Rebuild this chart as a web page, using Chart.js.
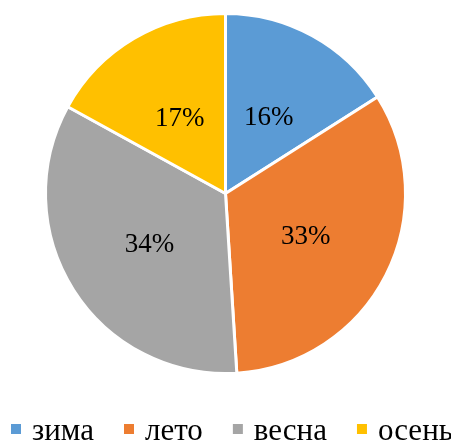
<!DOCTYPE html>
<html>
<head>
<meta charset="utf-8">
<script src="https://cdn.jsdelivr.net/npm/chart.js@4"></script>
<style>
  html, body { margin: 0; padding: 0; background: #fff; }
  #wrap { width: 451px; height: 441px; position: relative; }
</style>
</head>
<body>
<div id="wrap"><canvas id="seasonChart"></canvas></div>
<script>
const seasons = ['зима', 'лето', 'весна', 'осень'];
const shares = [16, 33, 34, 17];
const sliceColors = ['#5B9BD5', '#ED7D31', '#A5A5A5', '#FFC000'];

const serif = '"Liberation Serif", "Times New Roman", serif';

// percent labels in the middle of each slice
const percentLabels = {
    id: 'percentLabels',
    afterDatasetsDraw(chart) {
        const ctx = chart.ctx;
        const meta = chart.getDatasetMeta(0);
        const total = shares.reduce((a, b) => a + b, 0);
        ctx.save();
        ctx.font = '27px ' + serif;
        ctx.fillStyle = '#000';
        ctx.textAlign = 'center';
        ctx.textBaseline = 'middle';
        meta.data.forEach((arc, i) => {
            const p = arc.tooltipPosition();
            const pct = Math.round(shares[i] / total * 100) + '%';
            ctx.fillText(pct, p.x, p.y + 3);
        });
        ctx.restore();
    }
};

// legend row at the bottom, squares + text, like the office chart
const bottomLegend = {
    id: 'bottomLegend',
    afterDraw(chart) {
        const ctx = chart.ctx;
        const box = 10, gapText = 11, gapItem = 30;
        ctx.save();
        ctx.font = '31px ' + serif;
        ctx.textBaseline = 'alphabetic';
        let x = 11;
        const baseY = 440;
        seasons.forEach((s, i) => {
            ctx.fillStyle = sliceColors[i];
            ctx.fillRect(x, baseY - 16, box, box);
            x += box + gapText;
            ctx.fillStyle = '#000';
            ctx.fillText(s, x, baseY);
            x += ctx.measureText(s).width + gapItem;
        });
        ctx.restore();
    }
};

document.addEventListener('DOMContentLoaded', function () {
    const ctx = document.getElementById('seasonChart').getContext('2d');
    new Chart(ctx, {
        type: 'pie',
        data: {
            labels: seasons,
            datasets: [{
                data: shares,
                backgroundColor: sliceColors,
                borderColor: '#fff',
                borderWidth: 3
            }]
        },
        options: {
            responsive: true,
            maintainAspectRatio: false,
            animation: false,
            layout: { padding: { top: 12, bottom: 66 } },
            plugins: {
                tooltip: { enabled: false },
                legend: { display: false }
            }
        },
        plugins: [percentLabels, bottomLegend]
    });
});
</script>
</body>
</html>
